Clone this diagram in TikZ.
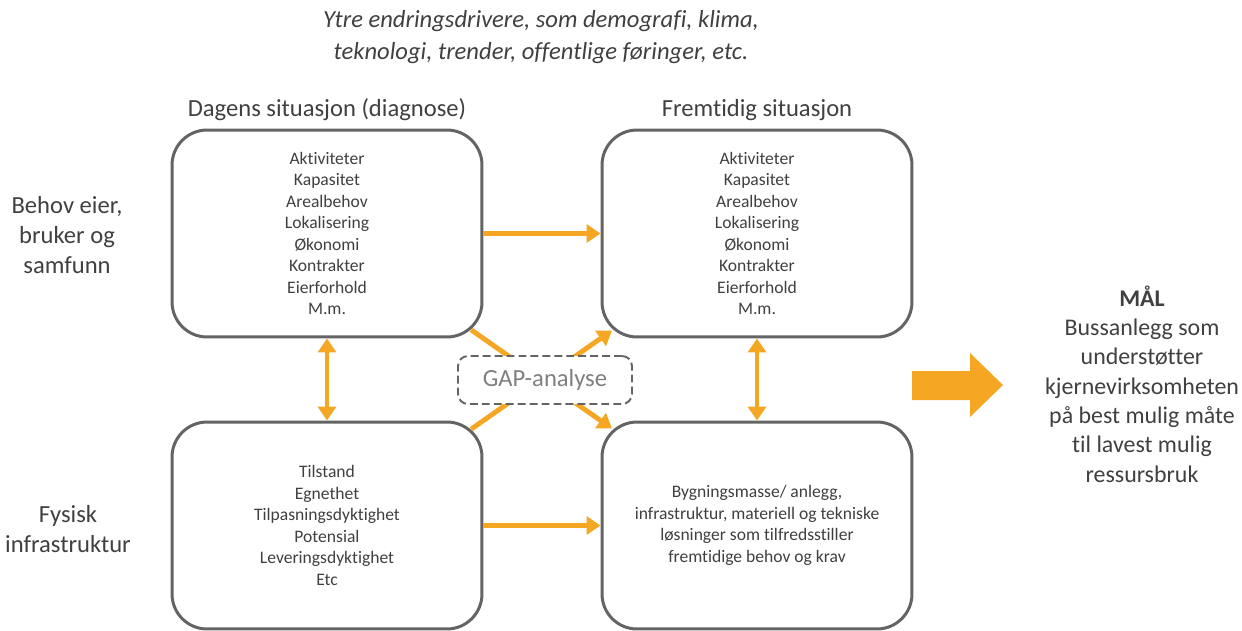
\documentclass[tikz,border=0pt]{standalone}
\usepackage{fontspec}
\setmainfont{Carlito}[Ligatures={NoCommon,NoContextual}]
\usetikzlibrary{arrows.meta}
\definecolor{boxgray}{HTML}{646464}
\definecolor{txtgray}{HTML}{404040}
\definecolor{gapgray}{HTML}{7F7F7F}
\definecolor{arroworange}{HTML}{F5A623}
\begin{document}
\begin{tikzpicture}[x=0.02cm,y=-0.02cm,
  sitbox/.style={draw=boxgray,line width=1.7pt,rounded corners=0.7cm,fill=white,
    minimum width=6.2cm,minimum height=4.14cm,align=center,text=txtgray,
    font=\fontsize{10}{12.2}\selectfont},
  sidetext/.style={align=center,text=txtgray,font=\fontsize{14}{17}\selectfont},
  flow/.style={draw=arroworange,line width=2.8pt,-{Triangle[length=0.28cm,width=0.36cm]}},
  flowboth/.style={flow,{Triangle[length=0.28cm,width=0.36cm]}-{Triangle[length=0.28cm,width=0.36cm]}},
  gapbox/.style={draw=boxgray,line width=1.1pt,dash pattern=on 4.5pt off 2.3pt,rounded corners=0.2cm,
    fill=white,minimum width=3.48cm,minimum height=0.96cm,text=gapgray,font=\fontsize{14}{17}\selectfont}]
\useasboundingbox (0,0) rectangle (1242,630);

\node[sidetext,font=\fontsize{14}{18.2}\selectfont\itshape] (drivers) at (541,37) {Ytre endringsdrivere, som demografi, klima,\\teknologi, trender, offentlige føringer, etc.};
\node[sidetext] (nowtitle) at (327,110) {Dagens situasjon (diagnose)};
\node[sidetext] (futtitle) at (757,110) {Fremtidig situasjon};
\node[sidetext] (needs) at (67,235) {Behov eier,\\bruker og\\samfunn};
\node[sidetext] (physical) at (68,529) {Fysisk\\infrastruktur};

\node[sitbox] (tl) at (327,233.5) {Aktiviteter\\Kapasitet\\Arealbehov\\Lokalisering\\Økonomi\\Kontrakter\\Eierforhold\\M.m.};
\node[sitbox] (tr) at (757,233.5) {Aktiviteter\\Kapasitet\\Arealbehov\\Lokalisering\\Økonomi\\Kontrakter\\Eierforhold\\M.m.};
\node[sitbox] (bl) at (327,525.5) {Tilstand\\Egnethet\\Tilpasningsdyktighet\\Potensial\\Leveringsdyktighet\\Etc};
\node[sitbox] (br) at (757,525.5) {Bygningsmasse/ anlegg,\\infrastruktur, materiell og tekniske\\løsninger som tilfredsstiller\\fremtidige behov og krav};

\draw[flow] (tl.east) -- (tr.west);
\draw[flow] (bl.east) -- (br.west);
\draw[flowboth] (tl.south) -- (bl.north);
\draw[flowboth] (tr.south) -- (br.north);
\draw[flow,shorten <=-0.3cm,shorten >=-0.28cm] (tl.south east) -- (br.north west);
\draw[flow,shorten <=-0.3cm,shorten >=-0.28cm] (bl.north east) -- (tr.south west);

\node[gapbox] (gap) at (545,380) {GAP-analyse};

% stor pil mot maalet
\fill[arroworange] (912,371) -- (970,371) -- (970,353) -- (1003,385) -- (970,417) -- (970,400) -- (912,400) -- cycle;
\node[sidetext,font=\fontsize{13.6}{16.7}\selectfont] (goal) at (1142,384) {\textbf{MÅL}\\Bussanlegg som\\understøtter\\kjernevirksomheten\\på best mulig måte\\til lavest mulig\\ressursbruk};
\end{tikzpicture}
\end{document}
